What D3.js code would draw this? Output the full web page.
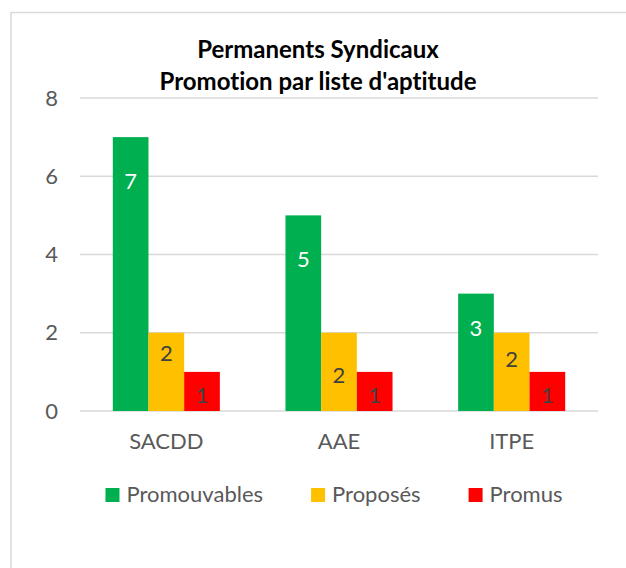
<!DOCTYPE html>
<html><head><meta charset="utf-8">
<script src="https://cdn.jsdelivr.net/npm/d3@7"></script>
<style>html,body{margin:0;padding:0;background:#fff;}svg{display:block;}text{font-variant-ligatures:none;font-feature-settings:"liga" 0;}</style>
</head><body>
<svg id="chart" width="626" height="568"></svg>
<script>
const categories = ["SACDD", "AAE", "ITPE"];
const seriesNames = ["Promouvables", "Proposés", "Promus"];
const promouvables = [7, 5, 3];
const proposes = [2, 2, 2];
const promus = [1, 1, 1];
const yTicks = [0, 2, 4, 6, 8];
const titleLines = ["Permanents Syndicaux", "Promotion par liste d'aptitude"];

const seriesValues = [promouvables, proposes, promus];
const colors = ["#00B050", "#FFC000", "#FF0000"];
const labelColors = ["#FFFFFF", "#404040", "#404040"];
// label anchor heights (value units) as placed in the reference
const labelAnchor = [[5.88, 3.87, 2.12], [1.48, 0.92, 1.33], [0.41, 0.41, 0.41]];

const svg = d3.select("#chart");
const FONT = "Lato, 'Open Sans', sans-serif";

svg.append("rect").attr("x", 11).attr("y", 12.5).attr("width", 800).attr("height", 800)
  .attr("fill", "#fff").attr("stroke", "#d9d9d9").attr("stroke-width", 1.5);

const x = d3.scaleBand().domain(categories).range([80, 598]).paddingInner(0).paddingOuter(0);
const inner = d3.scaleBand().domain(seriesNames).range([0, x.bandwidth() * 0.62]);
const groupOffset = (x.bandwidth() - x.bandwidth() * 0.62) / 2;
const y = d3.scaleLinear().domain([0, 8]).range([411, 98]);

// gridlines
svg.append("g").selectAll("line").data(yTicks).join("line")
  .attr("x1", 80).attr("x2", 598)
  .attr("y1", d => y(d)).attr("y2", d => y(d))
  .attr("stroke", "#d9d9d9").attr("stroke-width", 1.6);

// y axis labels
const yAxis = d3.axisLeft(y).tickValues(yTicks).tickSize(0).tickPadding(0);
const gy = svg.append("g").attr("transform", "translate(58,0)").call(yAxis);
gy.select(".domain").remove();
gy.selectAll("text").attr("font-family", FONT).attr("font-size", 22).attr("fill", "#595959");

// x axis labels
const xAxis = d3.axisBottom(x).tickSize(0).tickPadding(0);
const gx = svg.append("g").attr("transform", "translate(0,433)").call(xAxis);
gx.select(".domain").remove();
gx.selectAll("text").attr("font-family", FONT).attr("font-size", 22).attr("fill", "#595959");

// bars
seriesNames.forEach((s, si) => {
  const g = svg.append("g");
  g.selectAll("rect").data(categories).join("rect")
    .attr("x", c => x(c) + groupOffset + inner(s))
    .attr("width", inner.bandwidth())
    .attr("y", (c, i) => y(seriesValues[si][i]))
    .attr("height", (c, i) => y(0) - y(seriesValues[si][i]))
    .attr("fill", colors[si]);
  g.selectAll("text").data(categories).join("text")
    .attr("x", c => x(c) + groupOffset + inner(s) + inner.bandwidth() / 2)
    .attr("y", (c, i) => y(labelAnchor[si][i]))
    .attr("dy", "0.35em")
    .attr("text-anchor", "middle")
    .attr("font-family", FONT).attr("font-size", 22)
    .attr("fill", labelColors[si])
    .text((c, i) => seriesValues[si][i]);
});

// title
svg.append("g").selectAll("text").data(titleLines).join("text")
  .attr("x", 318).attr("y", (d, i) => 58 + i * 32)
  .attr("text-anchor", "middle")
  .attr("font-family", FONT).attr("font-size", 24).attr("font-weight", "bold")
  .attr("fill", "#000").text(d => d);

// legend
const legend = svg.append("g");
const items = legend.selectAll("g").data(seriesNames).join("g");
items.append("rect").attr("width", 14).attr("height", 14).attr("y", -14)
  .attr("fill", (d, i) => colors[i]);
items.append("text").attr("x", 21).attr("font-family", FONT).attr("font-size", 22)
  .attr("fill", "#595959").text(d => d);
const widths = [];
items.each(function () { widths.push(21 + this.querySelector("text").getComputedTextLength()); });
const gap = 48;
const total = d3.sum(widths) + gap * (widths.length - 1);
const startX = 334 - total / 2;
items.attr("transform", (d, i) => {
  const tx = startX + d3.sum(widths.slice(0, i)) + gap * i;
  return `translate(${tx},502)`;
});
</script>
</body></html>
